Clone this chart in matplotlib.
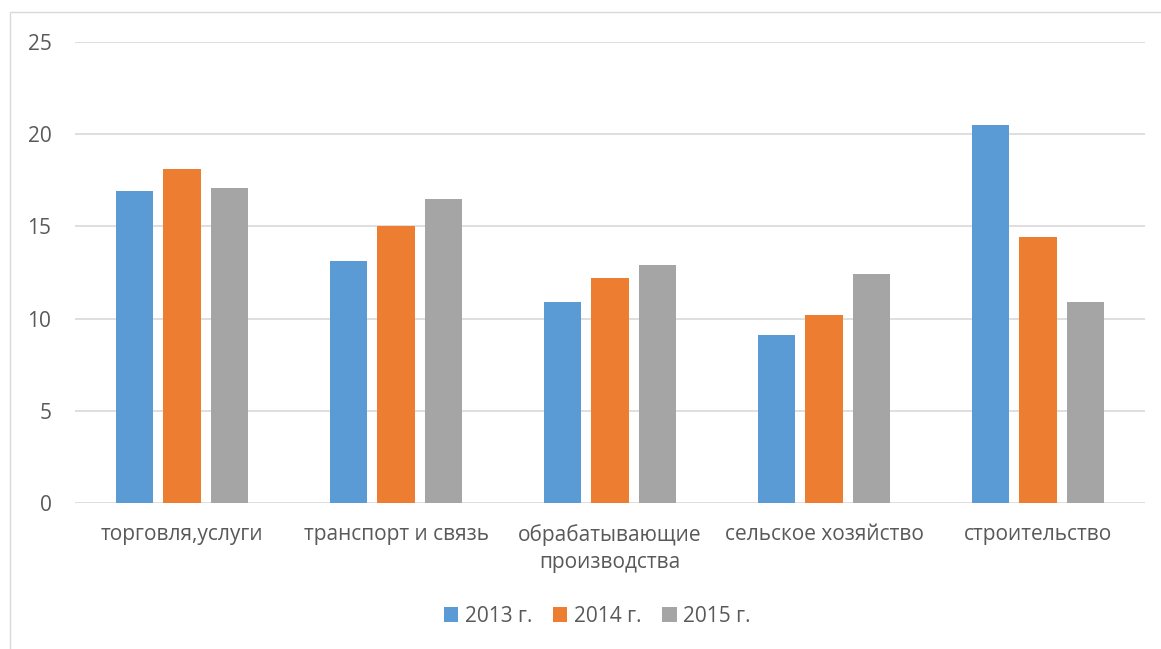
import matplotlib
matplotlib.use("Agg")
import matplotlib.pyplot as plt
import numpy as np
from matplotlib.patches import Rectangle

categories = ["торговля,услуги", "транспорт и связь", "обрабатывающие\nпроизводства",
              "сельское хозяйство", "строительство"]
series_names = ["2013 г.", "2014 г.", "2015 г."]
v2013 = [16.9, 13.1, 10.9, 9.1, 20.5]
v2014 = [18.1, 15.0, 12.2, 10.2, 14.4]
v2015 = [17.1, 16.5, 12.9, 12.4, 10.9]
yticks = [0, 5, 10, 15, 20, 25]

colors = ["#5b9bd5", "#ed7d31", "#a5a5a5"]
text_color = "#595959"

plt.rcParams['font.family'] = ['Open Sans', 'DejaVu Sans']

W, H = 1161, 649
fig = plt.figure(figsize=(W / 100, H / 100), dpi=100)
ax = fig.add_axes([75 / W, 1 - 503.3 / H, (1145 - 75) / W, (503.3 - 41.7) / H])

# chart frame
fig.patches.append(Rectangle((10 / W, -0.1), 1.2, (H - 12) / H + 0.1, transform=fig.transFigure,
                             fill=False, edgecolor="#d9d9d9", linewidth=1))

x = np.arange(len(categories))
pitch = 0.222
width = 0.175
for i, (vals, name) in enumerate(zip([v2013, v2014, v2015], series_names)):
    ax.bar(x + (i - 1) * pitch, vals, width=width, color=colors[i], label=name, zorder=3)

ax.set_xlim(-0.5, len(categories) - 0.5)
ax.set_ylim(0, 25)
ax.set_yticks(yticks)
ax.set_yticklabels([str(t) for t in yticks])
ax.yaxis.grid(True, color="#d9d9d9", linewidth=1.2, zorder=0)
ax.set_xticks(x)
ax.set_xticklabels(categories, linespacing=1.4)
for s in ax.spines.values():
    s.set_visible(False)
ax.tick_params(axis="both", length=0, labelsize=15, colors=text_color)
ax.tick_params(axis="x", pad=15)
ax.tick_params(axis="y", pad=17)

leg = fig.legend(loc="center", bbox_to_anchor=(597 / W, 1 - 616 / H), ncol=3, frameon=False,
                 fontsize=15, handlelength=0.7, handleheight=0.7, handletextpad=0.3,
                 columnspacing=1.0)
for t in leg.get_texts():
    t.set_color(text_color)

fig.savefig("out.png", dpi=100)
